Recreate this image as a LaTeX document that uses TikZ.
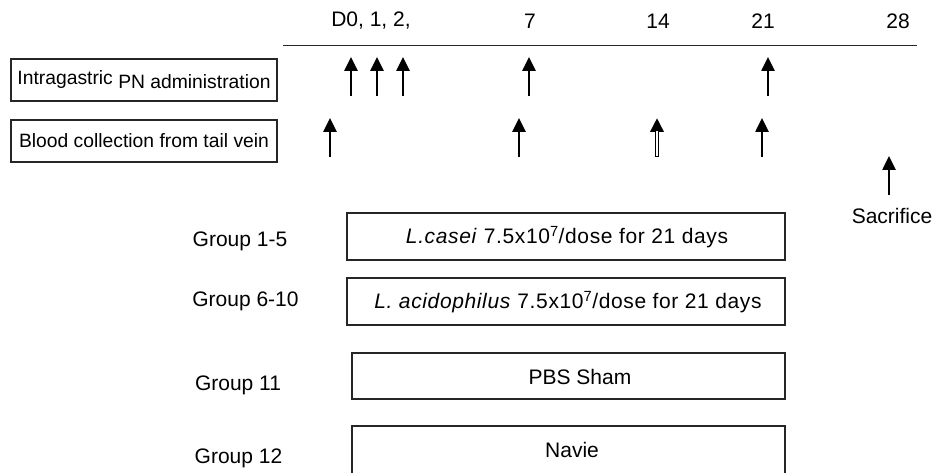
\documentclass[tikz,border=0pt]{standalone}
\usepackage{fontspec}
\setmainfont{Liberation Sans}
\newfontfamily\spacedsans[LetterSpace=3]{Liberation Sans}
\usetikzlibrary{arrows.meta}
\begin{document}
\begin{tikzpicture}[x=1pt,y=-1pt,
  lbl/.style={font=\fontsize{21}{25}\selectfont, inner sep=0pt, anchor=center},
  dose/.style={font=\spacedsans\fontsize{21}{25}\selectfont, inner sep=0pt, anchor=center},
  sidebox/.style={draw=black!85, line width=1.3pt, minimum width=266pt, minimum height=42pt,
    inner sep=0pt, font=\fontsize{19.3}{23}\selectfont},
  grpbox/.style={draw=black!85, line width=1.3pt, inner sep=0pt},
  upar/.style={-{Triangle[width=13pt,length=14pt]}, line width=2.6pt, black},
  axis/.style={line width=1.3pt, black!85}]
\useasboundingbox (0,0) rectangle (939,473);

% time axis with day labels
\coordinate (axL) at (283,45.5);
\coordinate (axR) at (917,45.5);
\draw[axis] (axL) -- (axR);
\node[lbl] (d0) at (371,21) {D0, 1, 2,};
\node[lbl] (d7) at (530,21) {7};
\node[lbl] (d14) at (658,21) {14};
\node[lbl] (d21) at (763,21) {21};
\node[lbl] (d28) at (898,21) {28};

% row headers
\node[sidebox] (pn) at (144,80) {\raisebox{4pt}{Intragastric} PN administration};
\node[sidebox] (blood) at (144,141) {Blood collection from tail vein};

% dosing arrows
\foreach \n/\x in {a/351, b/377, c/403, d/529, e/768} {
  \coordinate (pn\n b) at (\x,96);
  \coordinate (pn\n t) at (\x,57);
  \draw[upar] (pn\n b) -- (pn\n t);
}

% blood sampling arrows
\foreach \n/\x in {a/330, b/519, d/762} {
  \coordinate (bl\n b) at (\x,157);
  \coordinate (bl\n t) at (\x,118);
  \draw[upar] (bl\n b) -- (bl\n t);
}
% day 14 sample: outlined shaft
\coordinate (blcb) at (657,157);
\coordinate (blct) at (657,118);
\coordinate (blcm) at (657,131);
\coordinate (blcn) at (657,155.6);
\draw[upar, line width=3.6pt] (blcb) -- (blct);
\draw[white, line width=1.4pt] (blcn) -- (blcm);

% sacrifice
\coordinate (sacb) at (889,195);
\coordinate (sact) at (889,156);
\draw[upar] (sacb) -- (sact);
\node[lbl] (sac) at (892,216) {Sacrifice};

% treatment groups
\node[grpbox, minimum width=438pt, minimum height=47pt] (g1) at (566,236.5) {};
\node[dose] (g1t) at (567,237) {\textit{L.casei} 7.5x10\textsuperscript{7}/dose for 21 days};
\node[lbl] (g1l) at (240,241) {Group 1-5};

\node[grpbox, minimum width=438pt, minimum height=47pt] (g2) at (566,301.5) {};
\node[dose] (g2t) at (568,302) {\textit{L. acidophilus} 7.5x10\textsuperscript{7}/dose for 21 days};
\node[lbl] (g2l) at (245.5,301) {Group 6-10};

\node[grpbox, minimum width=433pt, minimum height=46pt] (g3) at (568.5,376) {};
\node[lbl] (g3t) at (580,377) {PBS Sham};
\node[lbl] (g3l) at (238,385) {Group 11};

\node[grpbox, minimum width=433pt, minimum height=47.5pt] (g4) at (568.5,449.75) {};
\node[lbl] (g4t) at (572,450) {Navie};
\node[lbl] (g4l) at (238.5,458) {Group 12};
\end{tikzpicture}
\end{document}
